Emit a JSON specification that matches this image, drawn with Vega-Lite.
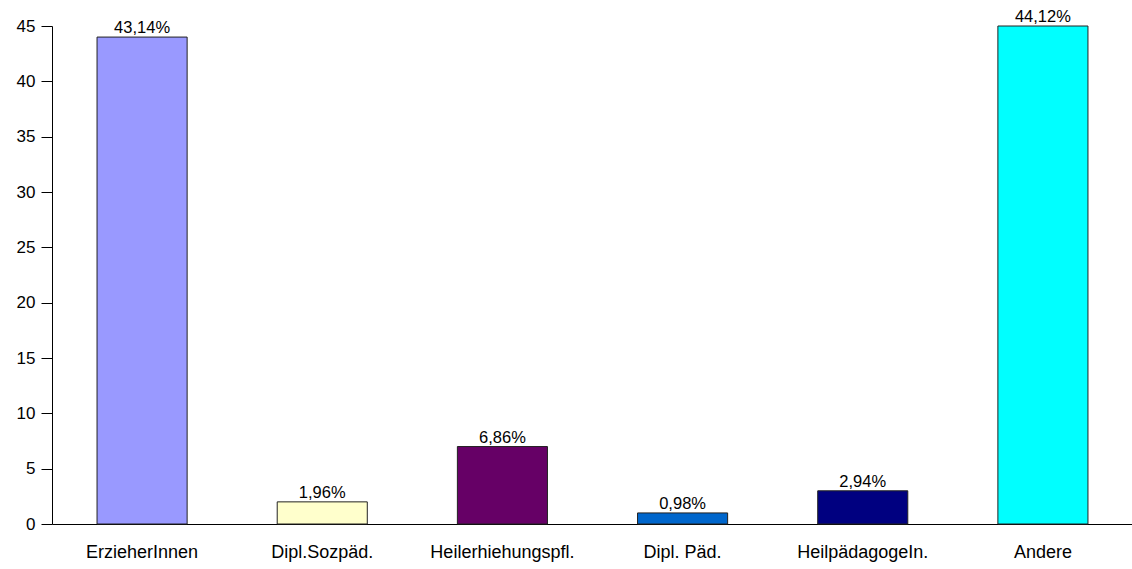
{
  "$schema": "https://vega.github.io/schema/vega-lite/v6.json",
  "width": 1081,
  "height": 498,
  "autosize": {"type": "none"},
  "padding": {"left": 52, "top": 26, "right": 0, "bottom": 45},
  "background": "white",
  "config": {
    "view": {"stroke": null},
    "font": "Liberation Sans"
  },
  "data": {
    "values": [
      {"beruf": "ErzieherInnen", "anzahl": 44, "anteil": "43,14%", "farbe": "#9999FF"},
      {"beruf": "Dipl.Sozpäd.", "anzahl": 2, "anteil": "1,96%", "farbe": "#FFFFCC"},
      {"beruf": "Heilerhiehungspfl.", "anzahl": 7, "anteil": "6,86%", "farbe": "#660066"},
      {"beruf": "Dipl. Päd.", "anzahl": 1, "anteil": "0,98%", "farbe": "#0066CC"},
      {"beruf": "HeilpädagogeIn.", "anzahl": 3, "anteil": "2,94%", "farbe": "#000080"},
      {"beruf": "Andere", "anzahl": 45, "anteil": "44,12%", "farbe": "#00FFFF"}
    ]
  },
  "encoding": {
    "x": {
      "field": "beruf",
      "type": "nominal",
      "sort": null,
      "scale": {"paddingInner": 0.5, "paddingOuter": 0.25},
      "axis": {
        "title": null,
        "labelAngle": 0,
        "labelFontSize": 18,
        "labelColor": "#000000",
        "labelPadding": 19,
        "ticks": false,
        "domainColor": "#000000",
        "domainWidth": 1
      }
    },
    "y": {
      "field": "anzahl",
      "type": "quantitative",
      "scale": {"domain": [0, 45], "nice": false},
      "axis": {
        "title": null,
        "values": [0, 5, 10, 15, 20, 25, 30, 35, 40, 45],
        "grid": false,
        "labelFontSize": 17,
        "labelColor": "#000000",
        "labelPadding": 6,
        "tickSize": 11,
        "tickColor": "#000000",
        "domainColor": "#000000"
      }
    }
  },
  "layer": [
    {
      "mark": {"type": "bar", "stroke": "#222222", "strokeWidth": 1},
      "encoding": {
        "color": {"field": "farbe", "type": "nominal", "scale": null, "legend": null}
      }
    },
    {
      "mark": {"type": "text", "baseline": "bottom", "dy": -1, "fontSize": 16.5, "color": "#000000"},
      "encoding": {"text": {"field": "anteil"}}
    }
  ]
}
